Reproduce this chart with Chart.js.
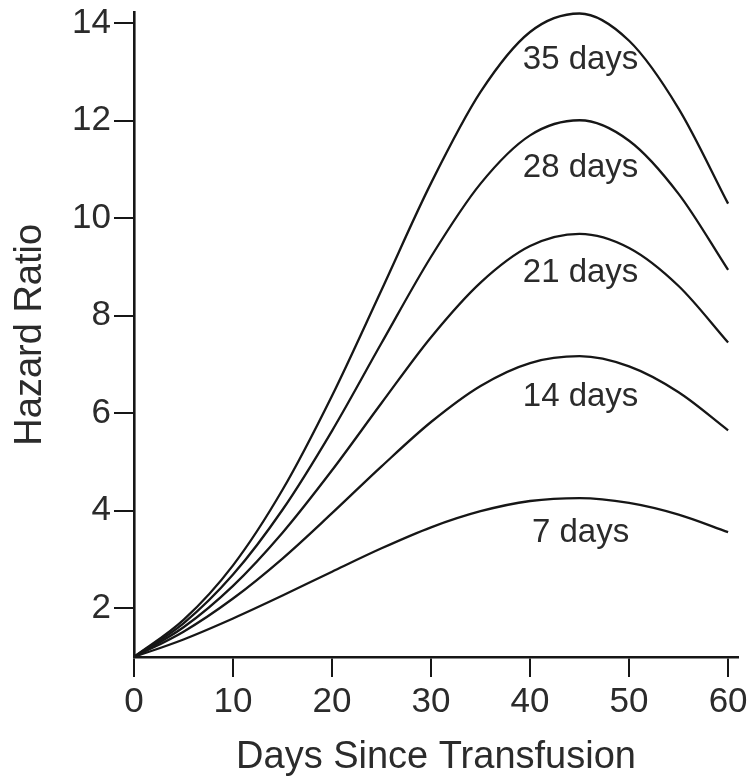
<!DOCTYPE html>
<html>
<head>
<meta charset="utf-8">
<script src="https://cdn.jsdelivr.net/npm/chart.js@4.4.1/dist/chart.umd.min.js"></script>
<style>
  html, body { margin: 0; padding: 0; background: #fff; }
  #wrap { width: 754px; height: 781px; position: relative; }
</style>
</head>
<body>
<div id="wrap"><canvas id="hazardChart"></canvas></div>
<script>
// Dias desde a transfusão (eixo x)
const days = [0, 5, 10, 15, 20, 25, 30, 35, 40, 45, 50, 55, 60];

// Hazard ratio, uma série por tempo de armazenamento
const hr7  = [1, 1.36, 1.79, 2.26, 2.75, 3.23, 3.66, 3.99, 4.20, 4.26, 4.16, 3.92, 3.56];
const hr14 = [1, 1.52, 2.20, 3.02, 3.95, 4.91, 5.82, 6.56, 7.03, 7.17, 6.96, 6.43, 5.65];
const hr21 = [1, 1.61, 2.46, 3.55, 4.83, 6.21, 7.56, 8.68, 9.43, 9.68, 9.39, 8.61, 7.45];
const hr28 = [1, 1.69, 2.69, 4.02, 5.64, 7.44, 9.21, 10.71, 11.70, 12.01, 11.59, 10.50, 8.94];
const hr35 = [1, 1.76, 2.88, 4.43, 6.36, 8.53, 10.72, 12.59, 13.82, 14.20, 13.64, 12.25, 10.30];

const seriesLabels = ['7 days', '14 days', '21 days', '28 days', '35 days'];

// Marcas dos eixos
const xTicks = [0, 10, 20, 30, 40, 50, 60];
const yTicks = [2, 4, 6, 8, 10, 12, 14];

// Onde ficam os rótulos das curvas (em coordenadas dos dados)
const labelX = 45.1;
const labelY = [3.54, 6.33, 8.88, 11.03, 13.25];

const ink = '#161616';
const textInk = '#2b2b2b';
const fontFamily = '"Liberation Sans", Arial, Helvetica, sans-serif';

function toPoints(values) {
    return days.map((d, i) => ({ x: d, y: values[i] }));
}

const allSeries = [hr7, hr14, hr21, hr28, hr35];

// Plugin simples para escrever os rótulos sobre as curvas
const curveLabels = {
    id: 'curveLabels',
    afterDatasetsDraw(chart) {
        const ctx = chart.ctx;
        const xs = chart.scales.x;
        const ys = chart.scales.y;
        ctx.save();
        ctx.fillStyle = textInk;
        ctx.font = '33px ' + fontFamily;
        ctx.textAlign = 'center';
        ctx.textBaseline = 'middle';
        seriesLabels.forEach((txt, i) => {
            ctx.fillText(txt, xs.getPixelForValue(labelX), ys.getPixelForValue(labelY[i]));
        });
        ctx.restore();
    }
};

document.addEventListener('DOMContentLoaded', function() {
    const ctx = document.getElementById('hazardChart').getContext('2d');
    new Chart(ctx, {
        type: 'line',
        data: {
            datasets: allSeries.map((values, i) => ({
                label: seriesLabels[i],
                data: toPoints(values),
                borderColor: ink,
                borderWidth: 2.3,
                pointRadius: 0,
                fill: false,
                cubicInterpolationMode: 'monotone',
                clip: false
            }))
        },
        options: {
            responsive: true,
            maintainAspectRatio: false,
            animation: false,
            layout: {
                padding: { top: 12.5, right: 16, bottom: 0, left: 0 }
            },
            plugins: {
                legend: { display: false },
                tooltip: { enabled: false }
            },
            scales: {
                x: {
                    type: 'linear',
                    min: 0,
                    max: 61,
                    afterBuildTicks: axis => { axis.ticks = xTicks.map(v => ({ value: v })); },
                    afterFit: scale => {
                        scale.height = 124;
                        scale.paddingLeft = 0;
                        scale.paddingRight = 0;
                    },
                    border: { display: true, color: ink, width: 2.6 },
                    grid: {
                        display: true,
                        drawOnChartArea: false,
                        drawTicks: true,
                        tickLength: 20,
                        color: ink,
                        lineWidth: 2
                    },
                    ticks: {
                        color: textInk,
                        padding: 4,
                        maxRotation: 0,
                        font: { family: fontFamily, size: 35 }
                    },
                    title: {
                        display: true,
                        text: 'Days Since Transfusion',
                        color: textInk,
                        padding: { top: 0, bottom: 1 },
                        font: { family: fontFamily, size: 38, lineHeight: 1.2 }
                    }
                },
                y: {
                    type: 'linear',
                    min: 1,
                    max: 14.22,
                    afterBuildTicks: axis => { axis.ticks = yTicks.map(v => ({ value: v })); },
                    afterFit: scale => {
                        scale.width = 134;
                        scale.paddingTop = 0;
                        scale.paddingBottom = 0;
                    },
                    border: { display: true, color: ink, width: 2.6 },
                    grid: {
                        display: true,
                        drawOnChartArea: false,
                        drawTicks: true,
                        tickLength: 20,
                        color: ink,
                        lineWidth: 2
                    },
                    ticks: {
                        color: textInk,
                        padding: 3,
                        font: { family: fontFamily, size: 35 }
                    },
                    title: {
                        display: true,
                        text: 'Hazard Ratio',
                        color: textInk,
                        padding: { top: 8, bottom: 0 },
                        font: { family: fontFamily, size: 38, lineHeight: 1.2 }
                    }
                }
            }
        },
        plugins: [curveLabels]
    });
});
</script>
</body>
</html>
